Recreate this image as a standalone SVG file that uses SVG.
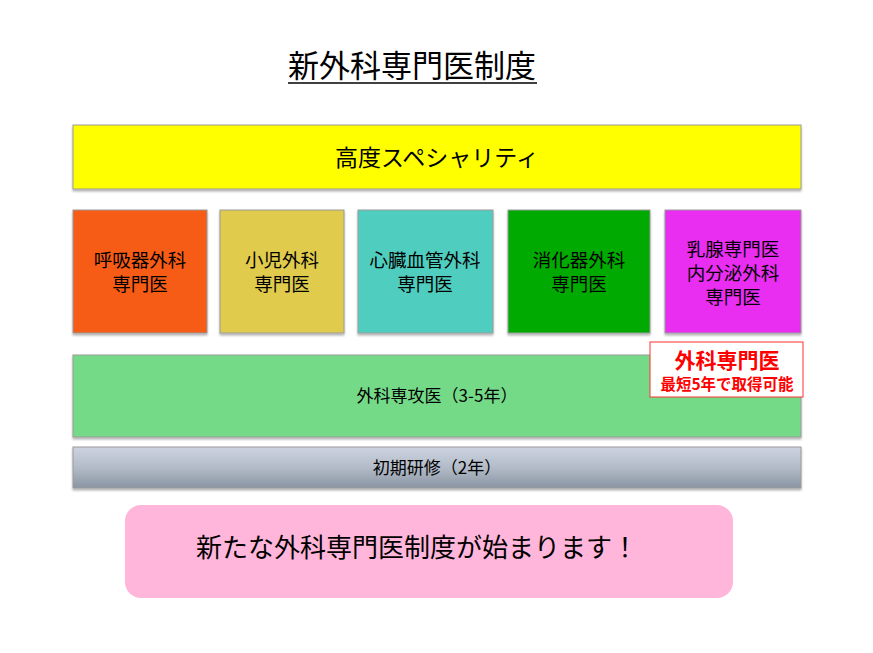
<svg xmlns="http://www.w3.org/2000/svg" width="873" height="653" viewBox="0 0 873 653">
<style>
text{font-family:"Noto Sans CJK JP","Noto Sans CJK SC",sans-serif;fill:#000;text-anchor:middle}
.box{stroke:#9a9a9a;stroke-width:1}
.spec{font-size:18.5px}
</style>
<defs>
<linearGradient id="gray" x1="0" y1="0" x2="0" y2="1">
<stop offset="0" stop-color="#cdd4e0"/>
<stop offset="0.5" stop-color="#b3bbc8"/>
<stop offset="1" stop-color="#8a94a2"/>
</linearGradient>
<filter id="sh" x="-5%" y="-10%" width="110%" height="130%">
<feDropShadow dx="0" dy="2" stdDeviation="1.2" flood-color="#000" flood-opacity="0.3"/>
</filter>
</defs>
<rect width="873" height="653" fill="#fff"/>
<g id="title">
<text x="412" y="77" font-size="31">新外科専門医制度</text>
<line x1="288" y1="83" x2="537" y2="83" stroke="#000" stroke-width="1.5"/>
</g>
<g id="specialty">
<rect class="box" x="73" y="125" width="728" height="64" fill="#ffff00" filter="url(#sh)"/>
<text x="437" y="166" font-size="23">高度スペシャリティ</text>
</g>
<g id="resp">
<rect class="box" x="73" y="210" width="134" height="123" fill="#f65b19" filter="url(#sh)"/>
<text class="spec" x="140" y="267">呼吸器外科</text>
<text class="spec" x="140" y="291">専門医</text>
</g>
<g id="ped">
<rect class="box" x="220" y="210" width="124" height="123" fill="#e0cb4d" filter="url(#sh)"/>
<text class="spec" x="282" y="267">小児外科</text>
<text class="spec" x="282" y="291">専門医</text>
</g>
<g id="cardio">
<rect class="box" x="358" y="210" width="135" height="123" fill="#4fcdbe" filter="url(#sh)"/>
<text class="spec" x="425" y="267">心臓血管外科</text>
<text class="spec" x="425" y="291">専門医</text>
</g>
<g id="digest">
<rect class="box" x="508" y="210" width="142" height="123" fill="#00aa00" filter="url(#sh)"/>
<text class="spec" x="579" y="267">消化器外科</text>
<text class="spec" x="579" y="291">専門医</text>
</g>
<g id="breast">
<rect class="box" x="665" y="210" width="136" height="123" fill="#e92ef2" filter="url(#sh)"/>
<text class="spec" x="733" y="256">乳腺専門医</text>
<text class="spec" x="733" y="280">内分泌外科</text>
<text class="spec" x="733" y="304">専門医</text>
</g>
<g id="resident">
<rect class="box" x="73" y="355" width="728" height="82" fill="#74da88" filter="url(#sh)"/>
<text x="437" y="402" font-size="17">外科専攻医（3-5年）</text>
</g>
<g id="surgeon">
<rect x="650" y="342" width="153" height="55" fill="#fff" stroke="#ff3030" stroke-width="1"/>
<text x="727" y="368" font-size="21" font-weight="bold" style="fill:#ff0000">外科専門医</text>
<text x="727" y="390" font-size="15.5" font-weight="bold" style="fill:#ff0000">最短5年で取得可能</text>
</g>
<g id="initial">
<rect class="box" x="73" y="447" width="728" height="41" fill="url(#gray)" filter="url(#sh)"/>
<text x="437" y="474" font-size="17">初期研修（2年）</text>
</g>
<g id="banner">
<rect x="125" y="505" width="608" height="93" rx="16" fill="#ffb6da"/>
<text x="417" y="557" font-size="26">新たな外科専門医制度が始まります！</text>
</g>
<g id="connectors"/>
</svg>
